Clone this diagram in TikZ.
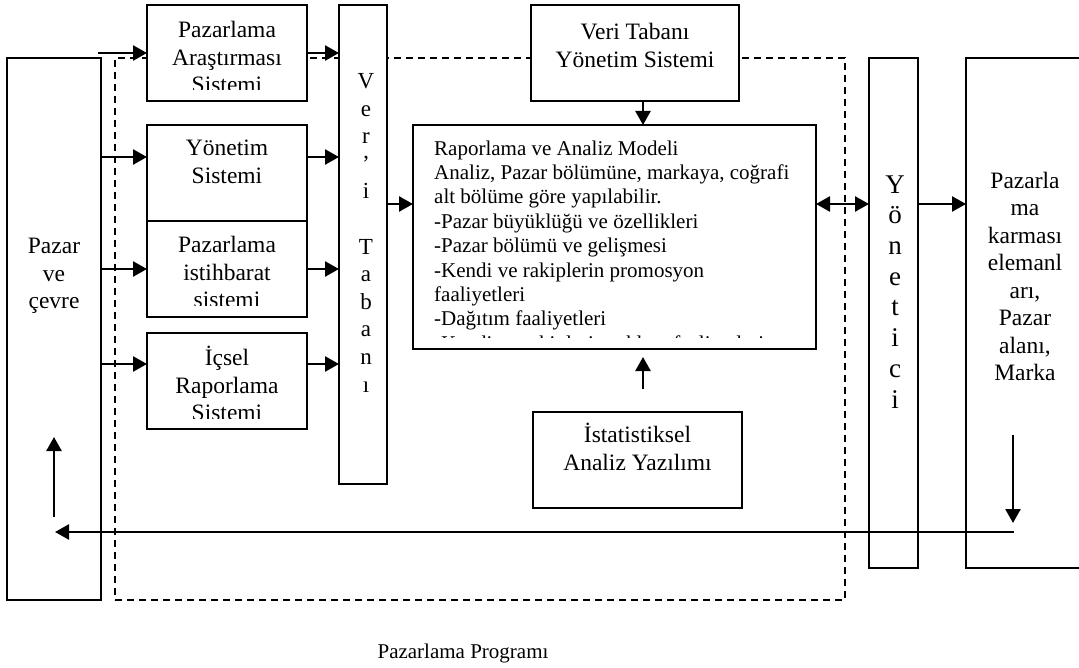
\documentclass[tikz,border=0pt]{standalone}
\usepackage{fontspec}
\setmainfont{Liberation Serif}
\usetikzlibrary{arrows.meta}
\newcommand\fontA{\fontsize{23.5}{27.5}\selectfont}
\newcommand\fontB{\fontsize{21}{24.4}\selectfont}
\newcommand\fontC{\fontsize{27}{30.7}\selectfont}
\newcommand\fontV{\fontsize{23}{27.6}\selectfont}
\newcommand\fontCap{\fontsize{21}{24}\selectfont}
\begin{document}
\begin{tikzpicture}[x=1pt,y=-1pt,
  box/.style={draw, line width=1.8pt, fill=white, inner sep=0pt, outer sep=0pt},
  txt/.style={align=center, inner sep=0pt, font=\fontA},
  arr/.style={line width=2.5pt, -{Triangle[length=14pt,width=15pt]}},
  darr/.style={line width=2.5pt, {Triangle[length=14pt,width=15pt]}-{Triangle[length=14pt,width=15pt]}},
  dashbox/.style={draw, line width=1.6pt, dash pattern=on 7pt off 5pt, inner sep=0pt, outer sep=0pt}
]
\useasboundingbox (0,0) rectangle (1079,668);
\clip (0,0) rectangle (1079,668);

% dashed frame (drawn first, partly hidden by boxes)
\node[dashbox, minimum width=730pt, minimum height=542pt] (prog) at (480,329) {};

% boxes
\node[box, minimum width=94pt,  minimum height=542pt] (pazar) at (54,329) {};
\node[box, minimum width=160pt, minimum height=96pt]  (par)   at (227,53) {};
\node[box, minimum width=160pt, minimum height=96pt]  (yon)   at (227,173) {};
\node[box, minimum width=160pt, minimum height=96pt]  (ist)   at (227,269) {};
\node[box, minimum width=160pt, minimum height=96pt]  (ics)   at (227,381) {};
\node[box, minimum width=48pt,  minimum height=479pt] (veri)  at (363,244.5) {};
\node[box, minimum width=208pt, minimum height=96pt]  (vtys)  at (635,53) {};
\node[box, minimum width=403pt, minimum height=224pt] (rap)   at (614.5,237) {};
\node[box, minimum width=209pt, minimum height=96pt]  (stat)  at (637.5,460) {};
\node[box, minimum width=49pt,  minimum height=510pt] (yn)    at (893.5,313) {};
\node[box, minimum width=119pt, minimum height=510pt] (pk)    at (1025.5,313) {};

% texts
\node[txt] (tpazar) at (54,276) {\strut Pazar\\\strut ve\\\strut çevre};
\begin{scope}
\clip (147,5) rectangle (307,90);
\node[txt] (tpar) at (227,60) {\strut Pazarlama\\\strut Araştırması\\\strut Sistemi};
\end{scope}
\node[txt] (tyon) at (227,164) {\strut Yönetim\\\strut Sistemi};
\begin{scope}
\clip (147,221) rectangle (307,306);
\node[txt] (tist) at (227,275) {\strut Pazarlama\\\strut istihbarat\\\strut sistemi};
\end{scope}
\begin{scope}
\clip (147,333) rectangle (307,418);
\node[txt] (tics) at (227,387.5) {\strut İçsel\\\strut Raporlama\\\strut Sistemi};
\end{scope}
\node[txt, font=\fontV] (tveri) at (366,234.8) {\strut V\\\strut e\\\strut r\\\strut ’\\\strut i\\\strut\\\strut T\\\strut a\\\strut b\\\strut a\\\strut n\\\strut ı};
\node[txt] (tvtys) at (635,48) {\strut Veri Tabanı\\\strut Yönetim Sistemi};
\begin{scope}
\clip (413,125) rectangle (816,338);
\node[txt, align=left, font=\fontB, anchor=north west] (trap) at (434,137.8) {\strut Raporlama ve Analiz Modeli\\\strut Analiz, Pazar bölümüne, markaya, coğrafi\\\strut alt bölüme göre yapılabilir.\\\strut -Pazar büyüklüğü ve özellikleri\\\strut -Pazar bölümü ve gelişmesi\\\strut -Kendi ve rakiplerin promosyon\\\strut faaliyetleri\\\strut -Dağıtım faaliyetleri\\\strut -Kendi ve rakiplerin reklam faaliyetleri};
\end{scope}
\node[txt] (tstat) at (637.5,451) {\strut İstatistiksel\\\strut Analiz Yazılımı};
\node[txt, font=\fontC] (tyn) at (895,294.5) {\strut Y\\\strut ö\\\strut n\\\strut e\\\strut t\\\strut i\\\strut c\\\strut i};
\node[txt] (tpk) at (1025,279) {\strut Pazarla\\\strut ma\\\strut karması\\\strut elemanl\\\strut arı,\\\strut Pazar\\\strut alanı,\\\strut Marka};
\node[txt, font=\fontCap] (cap) at (463,653) {Pazarlama Programı};

% connectors
\coordinate (s1) at (98,53);
\draw[arr] (s1) -- (par.west);
\draw[arr] (par.east) -- (par.east -| veri.west);
\draw[arr] ([yshift=16pt]yon.west -| pazar.east) -- ([yshift=16pt]yon.west);
\draw[arr] ([yshift=16pt]yon.east) -- ([yshift=16pt]yon.east -| veri.west);
\draw[arr] (ist.west -| pazar.east) -- (ist.west);
\draw[arr] (ist.east) -- (ist.east -| veri.west);
\draw[arr] ([yshift=17pt]ics.west -| pazar.east) -- ([yshift=17pt]ics.west);
\draw[arr] ([yshift=17pt]ics.east) -- ([yshift=17pt]ics.east -| veri.west);
\draw[arr] ([yshift=33pt]rap.west -| veri.east) -- ([yshift=33pt]rap.west);
\draw[darr] ([yshift=33pt]rap.east) -- ([yshift=33pt]rap.east -| yn.west);
\draw[arr] ([yshift=33pt]rap.east -| yn.east) -- ([yshift=33pt]rap.east -| pk.west);
\draw[arr] ([xshift=8pt]vtys.south) -- ([xshift=8pt]vtys.south |- rap.north);
\coordinate (st1) at ([xshift=5.5pt,yshift=23pt]stat.north);
\coordinate (st2) at ([yshift=-8pt]rap.south -| st1);
\draw[arr] (st1) -- (st2);
\coordinate (d1) at (1013,435);
\coordinate (d2) at (1013,523);
\draw[arr] (d1) -- (d2);
\coordinate (f1) at (1014,532);
\coordinate (f2) at (55,532);
\draw[arr] (f1) -- (f2);
\coordinate (u1) at (54,517);
\coordinate (u2) at (54,437);
\draw[arr] (u1) -- (u2);
\end{tikzpicture}
\end{document}
